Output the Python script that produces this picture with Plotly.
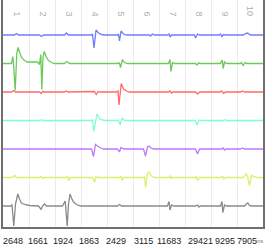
import plotly.graph_objects as go

# Column (beat) labels and per-column values shown under the chart
COLUMNS = ["1", "2", "3", "4", "5", "6", "7", "8", "9", "10"]
COUNTS = ["2648", "1661", "1924", "1863", "2429", "3115", "11683", "29421", "9295", "7905"]
UNIT = "ms"

# Each channel: (time, amplitude) samples; a column spans 26 time units
BLUE = [(0,0),(11.5,0),(13.5,1.5),(15.5,0),(36.5,0),(38.5,-1.5),(40.5,0),(61.5,0),(63.5,2),(65.5,0),
        (88.5,0),(89.5,1),(91,-13),(93,5),(95.5,2),(98.5,0.5),(101.5,0),(114.5,0),(115.5,1),(116.5,-6),
        (118,4),(120.5,1),(123.5,0),(146.5,0),(147.5,-1),(149.5,1),(151.5,0),(164.5,0),(166,1),(167,-2),
        (168.5,0),(191.5,0),(192.5,-3),(194.5,1),(196.5,0),(216.5,0),(217.5,1),(219,-1.5),(220.5,0.5),
        (222.5,0),(240.5,0),(242.5,1.5),(244.5,2),(247.5,0),(260,0)]
GREEN = [(0,0),(8.5,0),(9.8,7),(10.5,0),(12.2,-27),(13.8,10),(15,16),(16.5,11),(18.5,6),(21.5,3),
         (24.5,1.5),(34.5,1.5),(36.5,-1),(37.8,9),(38.8,-26),(40,6),(41.3,12),(43,7),(45.5,3),(48.5,1),
         (51.5,0),(61.5,0),(63.5,2),(65,1),(66.5,0),(114.5,0),(116.5,0.5),(117.5,-4),(119.5,4),(121.5,1),
         (124.5,0),(165.5,0),(167,4),(168,-8),(169.5,1),(171.5,0),(192.5,0),(194,-1.5),(195.5,0.5),
         (197.5,0),(217.5,0),(219.2,3.5),(220.2,-5),(221.5,1.5),(223.5,0),(237.5,0),(238.5,1),(240.2,-2),
         (242,1),(243.5,0),(260,0)]
RED = [(0,0),(8.5,0),(10.5,1.5),(12.5,0),(36.5,0),(38.2,-1.5),(39.5,0.5),(41.5,0),(61.5,0),(63.2,1),
       (65,0),(90.5,0),(91.5,0.5),(93.2,-2.5),(95,0.5),(96.5,0),(113.5,0),(115,1),(116,-13),(118.2,8.5),
       (120.5,3),(123.5,1),(126.5,0),(165.5,0),(167,1),(168.5,-1),(170,0),(192.5,0),(194.5,-2),(196.5,0),
       (217.5,0),(219,1),(220.5,-1.5),(222.5,0),(237.5,0),(239.5,1),(241.5,0),(260,0)]
CYAN = [(0,0),(36.5,0),(38.5,0.8),(40.5,0),(88.5,0),(89.5,0.5),(90.8,-11),(92.5,0),(94,6.5),(96.5,2),
        (99.5,0.5),(102.5,0),(115.5,0),(117.2,-4.5),(119,2.5),(121.5,0),(192.5,0),(194.2,-4.5),(196,0.5),
        (197.5,0),(220,0),(222,0.8),(224,0),(260,0)]
PURPLE = [(0,0),(88.5,0),(90.5,-7.5),(92.5,4.5),(94.5,3),(97.5,1),(100.5,0),(114.5,0),(116.5,-3),
          (118,1.5),(119.5,0.5),(121.5,0),(140.5,0),(142.5,-7),(144.5,2),(146,3),(148.5,0.5),(151.5,0),
          (192.5,0),(194.5,-5),(196.5,0),(218.5,0),(220,1),(221.5,-1),(223,0),(237.5,0),(239.5,1),
          (241.5,0),(260,0)]
YELLOW = [(0,0),(9.5,0),(11.5,2),(13.5,0),(36.5,0),(38.2,1),(39.5,-1),(41,0),(63.5,0),(64.8,1),
          (65.8,-3),(67.5,0),(89.5,0),(91.5,-4.7),(93,1),(94.5,0),(117,0),(118,1),(119.2,-3),(121,0.5),
          (122.5,0),(140.5,0),(141.5,1),(142.5,-10),(144.5,4),(146,5.5),(148.5,1.5),(151.5,0),(166.5,0),
          (167.5,2),(168.5,-1),(170,0),(192.5,0),(193.5,1),(194.5,-3),(196.5,0),(218.5,0),(219.5,1.5),
          (220.8,-1.5),(222.5,0),(240.5,0),(243.2,4),(244.5,1),(246.5,-8),(248.5,2),(250.5,1),(253.5,0),
          (260,0)]
GRAY = [(0,0),(7.5,0),(9,1),(10.8,-20),(12.5,2),(14.8,12),(16.5,7),(18.5,3),(21.5,1.5),(26.5,0.5),
        (35.5,0),(38.2,-3.5),(39.5,0),(41.5,2),(43.5,0),(59.5,0),(62.2,5),(64.2,-20),(65.5,2),(67,12),
        (68.5,8),(70.5,4),(73.5,1.5),(77.5,0),(114.5,0),(116.5,1.5),(118.5,0),(164.5,0),(166,4.5),
        (167,-4),(168.5,1),(170.5,0),(192.5,0),(194.5,1),(196,-1),(197.5,0),(217.5,0),(219,4.5),
        (219.8,-6.5),(221.5,1),(223.5,0),(241.5,0),(243.5,2),(244.8,3),(246.5,0.5),(248.5,0),(260,0)]

CHANNELS = [BLUE, GREEN, RED, CYAN, PURPLE, YELLOW, GRAY]
COLORS = ["#6f7dff", "#6cc95a", "#ff6b6b", "#7effd0", "#bd78ff", "#dfee6a", "#8a8a8a"]

# layout
COL_W = 26
TOP_OFFSET = 35
ROW_GAP = 28.5
Y_SPAN = 227
LABEL_PX = [12.7, 37.5, 62.5, 89, 116, 143.5, 169, 200, 225, 247]

fig = go.Figure()
for i, (ch, col) in enumerate(zip(CHANNELS, COLORS)):
    base = -(TOP_OFFSET + i * ROW_GAP)
    t = [p[0] for p in ch]
    v = [base + p[1] for p in ch]
    fig.add_trace(go.Scatter(x=t, y=v, mode="lines", line=dict(color=col, width=1.3),
                             hoverinfo="skip", showlegend=False))

ann = []
for k, lab in enumerate(COLUMNS):
    ann.append(dict(x=COL_W * k + COL_W / 2, xref="x", y=1 - 18 / Y_SPAN, yref="paper",
                    text=lab, showarrow=False, textangle=90, yanchor="bottom",
                    font=dict(size=9, color="#b0b0b0")))
for k, lab in enumerate(COUNTS):
    ann.append(dict(x=LABEL_PX[k] - 3, xref="x", y=-14 / Y_SPAN, yref="paper",
                    text=lab, showarrow=False, yanchor="middle",
                    font=dict(size=9, color="#222222")))
ann.append(dict(x=(259.5 - 3), xref="x", y=-14 / Y_SPAN, yref="paper", text=UNIT,
                showarrow=False, yanchor="middle", font=dict(size=5.5, color="#777777")))

fig.update_layout(
    width=277, height=250,
    margin=dict(l=3, r=14, t=0, b=23),
    paper_bgcolor="white", plot_bgcolor="white",
    font=dict(family="Liberation Sans, Arial, sans-serif"),
    annotations=ann,
    xaxis=dict(range=[0, COL_W * 10], tick0=0, dtick=COL_W, showgrid=True,
               gridcolor="#ebebeb", gridwidth=1, showticklabels=False, ticks="",
               zeroline=False, showline=True, linecolor="#707070", linewidth=2,
               fixedrange=True),
    yaxis=dict(range=[-Y_SPAN, 0], showgrid=False, showticklabels=False, ticks="",
               zeroline=False, showline=True, mirror=True, linecolor="#707070",
               linewidth=2, fixedrange=True),
)

fig.write_html("out.html", config={"displayModeBar": False},
               post_script="document.body.style.margin='0';document.body.style.padding='0';")
